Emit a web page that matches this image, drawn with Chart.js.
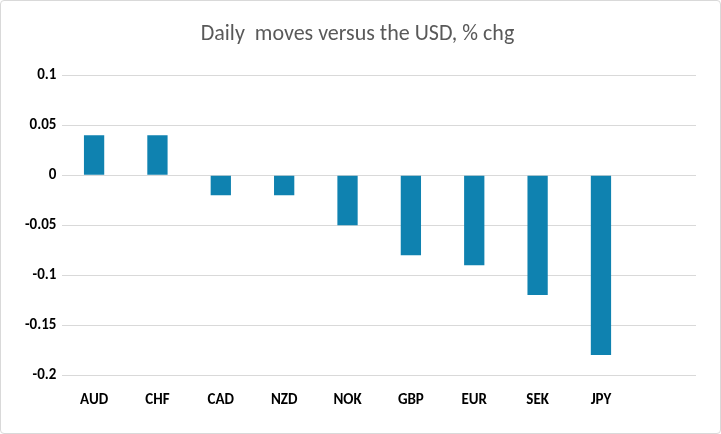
<!DOCTYPE html>
<html>
<head>
<meta charset="utf-8">
<script src="https://cdn.jsdelivr.net/npm/chart.js@4"></script>
<style>
  html, body { margin: 0; padding: 0; background: #fff; }
  #wrap { position: absolute; left: 0; top: 0; width: 719px; height: 432px; border: 1px solid #d9d9d9; border-radius: 4px; }
</style>
</head>
<body>
<div id="wrap"><canvas id="moves-chart"></canvas></div>
<script>
  // Data
  const categories = ['AUD', 'CHF', 'CAD', 'NZD', 'NOK', 'GBP', 'EUR', 'SEK', 'JPY', ''];
  const dailyChange = [0.04, 0.04, -0.02, -0.02, -0.05, -0.08, -0.09, -0.12, -0.18, null];
  const yTicks = [0.1, 0.05, 0, -0.05, -0.1, -0.15, -0.2];

  const ctx = document.getElementById('moves-chart');

  new Chart(ctx, {
    type: 'bar',
    data: {
      labels: categories,
      datasets: [{
        label: '% chg',
        data: dailyChange,
        backgroundColor: '#0f82b0',
        barPercentage: 0.64,
        categoryPercentage: 0.5
      }]
    },
    options: {
      responsive: true,
      maintainAspectRatio: false,
      animation: false,
      layout: { padding: { left: 18, right: 24, top: 8, bottom: 16 } },
      scales: {
        x: {
          grid: { display: false },
          border: { display: false },
          ticks: { padding: 8, color: '#000', font: { family: 'Calibri, Carlito, Liberation Sans, sans-serif', size: 15, weight: 'bold' } }
        },
        y: {
          min: -0.2,
          max: 0.1,
          afterBuildTicks: function (axis) {
            axis.ticks = yTicks.map(v => ({ value: v }));
          },
          grid: { color: '#d9d9d9', drawTicks: false },
          border: { display: false },
          ticks: {
            padding: 6,
            color: '#000',
            font: { family: 'Calibri, Carlito, Liberation Sans, sans-serif', size: 15, weight: 'bold' },
            callback: v => String(Math.round(v * 100) / 100)
          }
        }
      },
      plugins: {
        legend: { display: false },
        tooltip: { enabled: false },
        title: {
          display: true,
          text: 'Daily  moves versus the USD, % chg',
          color: '#595959',
          font: { family: 'Calibri, Carlito, Liberation Sans, sans-serif', size: 22, weight: 'normal' },
          padding: { top: 12, bottom: 28 }
        }
      }
    }
  });
</script>
</body>
</html>
